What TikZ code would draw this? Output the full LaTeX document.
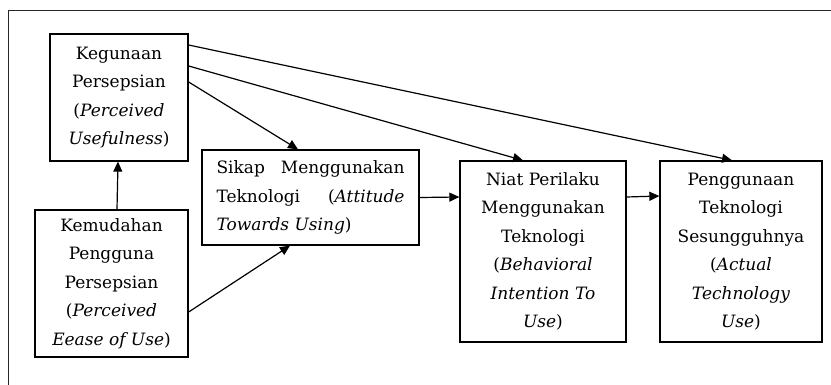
\documentclass[tikz,border=0pt]{standalone}
\usepackage{fontspec}
\setmainfont{DejaVu Serif}
\usetikzlibrary{arrows.meta}
\begin{document}
\begin{tikzpicture}[x=1pt,y=-1pt,
  box/.style={draw,line width=1.3pt,inner sep=0pt,align=center,
    font=\fontsize{17}{28.5}\selectfont},
  arr/.style={line width=1.2pt,-{Triangle[length=10pt,width=9pt]}},
  frame/.style={line width=1pt,draw=black!85}]
\useasboundingbox (0,0) rectangle (831,385);
\draw[frame] (8,385) -- (8,11) -- (831,11);
\node[box,minimum width=138pt,minimum height=127pt] (A) at (119,97.5)
  {Kegunaan\\Persepsian\\(\textit{Perceived}\\\textit{Usefulness})};
\node[box,minimum width=217pt,minimum height=95pt,align=left] (B) at (310.5,197.5)
  {\hbox to 188pt{Sikap\hfill Menggunakan}\\\hbox to 188pt{Teknologi\hfill(\textit{Attitude}}\\\textit{Towards Using})};
\node[box,minimum width=153pt,minimum height=147pt] (C) at (111.5,283.5)
  {Kemudahan\\Pengguna\\Persepsian\\(\textit{Perceived}\\\textit{Eease of Use})};
\node[box,minimum width=166pt,minimum height=181pt] (D) at (543,251.5)
  {Niat Perilaku\\Menggunakan\\Teknologi\\(\textit{Behavioral}\\\textit{Intention To}\\\textit{Use})};
\node[box,minimum width=162pt,minimum height=181pt] (E) at (741,251.5)
  {Penggunaan\\Teknologi\\Sesungguhnya\\(\textit{Actual}\\\textit{Technology}\\\textit{Use})};
\draw[arr] ([yshift=15.5pt]A.east) -- ([xshift=-12.5pt]B.north);
\draw[arr] ([yshift=31.5pt]A.east) -- ([xshift=-20pt]D.north);
\draw[arr] ([yshift=52.5pt]A.east) -- ([xshift=-9pt]E.north);
\draw[arr] ([xshift=5.5pt]C.north) -- ([xshift=-1pt]A.south);
\draw[arr] ([yshift=-28.5pt]C.east) -- ([xshift=-20.5pt]B.south);
\draw[arr] (B.east) -- ([yshift=54.5pt]D.west);
\draw[arr] ([yshift=54.5pt]D.east) -- ([yshift=55.5pt]E.west);
\end{tikzpicture}
\end{document}
